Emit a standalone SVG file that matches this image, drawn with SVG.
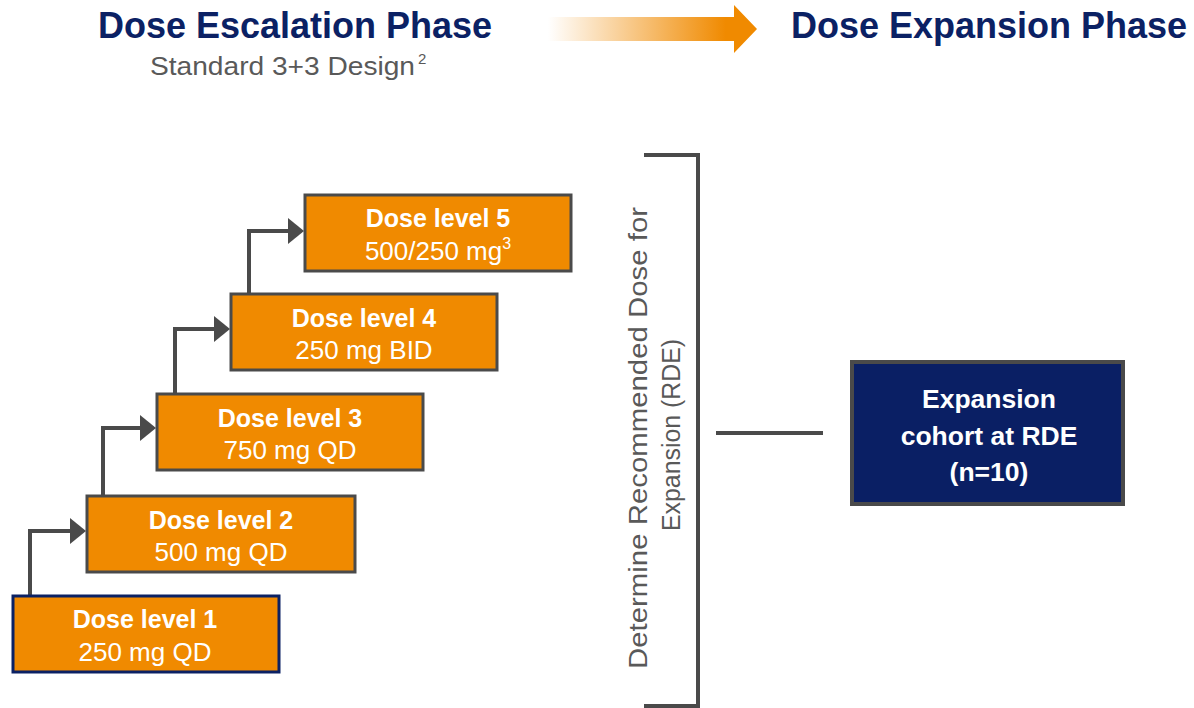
<svg xmlns="http://www.w3.org/2000/svg" width="1194" height="708" viewBox="0 0 1194 708">
<style>
.title{font-family:"Liberation Sans",Arial,sans-serif;font-weight:bold;font-size:36px;fill:#0b2164}
.sub{font-family:"Liberation Sans",Arial,sans-serif;font-size:26px;fill:#595959}
.sup{font-family:"Liberation Sans",Arial,sans-serif;font-size:15px;fill:#595959}
.box{fill:#f08a00;stroke:#4a4a4a;stroke-width:3}
.b1{stroke:#0b2164}
.bt{font-family:"Liberation Sans",Arial,sans-serif;font-weight:bold;font-size:25px;fill:#fff;text-anchor:middle}
.et{font-family:"Liberation Sans",Arial,sans-serif;font-weight:bold;font-size:26.5px;fill:#fff;text-anchor:middle}
.rt{font-family:"Liberation Sans",Arial,sans-serif;font-size:26px;fill:#fff;text-anchor:middle}
.conn{fill:none;stroke:#4a4a4a;stroke-width:4}
.rot{font-family:"Liberation Sans",Arial,sans-serif;font-size:25px;fill:#595959;text-anchor:middle}
</style>
<defs>
<linearGradient id="grad" x1="548" y1="0" x2="757" y2="0" gradientUnits="userSpaceOnUse">
<stop offset="0" stop-color="#f08a00" stop-opacity="0"/>
<stop offset="0.85" stop-color="#f08a00"/>
</linearGradient>
<marker id="ah" markerUnits="userSpaceOnUse" markerWidth="16" markerHeight="26" refX="0" refY="13" orient="auto" viewBox="0 0 16 26">
<path d="M0,0 L16,13 L0,26 z" fill="#4a4a4a"/>
</marker>
</defs>
<g id="header">
<text class="title" x="295" y="38" text-anchor="middle">Dose Escalation Phase</text>
<text class="sub" x="150" y="75" textLength="265" lengthAdjust="spacingAndGlyphs">Standard 3+3 Design</text>
<text class="sup" x="418" y="64">2</text>
<polygon id="phase-arrow" points="548,17 734,17 734,5 757,29 734,53 734,41 548,41" fill="url(#grad)"/>
<text class="title" x="989" y="38" text-anchor="middle">Dose Expansion Phase</text>
</g>
<g id="connectors">
<path class="conn" d="M30,598 V531 H70" marker-end="url(#ah)"/>
<path class="conn" d="M103,497 V428 H140" marker-end="url(#ah)"/>
<path class="conn" d="M175,395 V329 H214" marker-end="url(#ah)"/>
<path class="conn" d="M249,295 V231 H288" marker-end="url(#ah)"/>
<path class="conn" d="M644,155 H698 V706 H644"/>
<path class="conn" d="M716,433 H823"/>
</g>
<g id="dose1">
<rect class="box b1" x="13" y="596" width="266" height="76"/>
<text class="bt" x="145" y="628">Dose level 1</text>
<text class="rt" x="145" y="661">250 mg QD</text>
</g>
<g id="dose2">
<rect class="box" x="87" y="496" width="268" height="76"/>
<text class="bt" x="221" y="529">Dose level 2</text>
<text class="rt" x="221" y="561">500 mg QD</text>
</g>
<g id="dose3">
<rect class="box" x="157" y="394" width="266" height="76"/>
<text class="bt" x="290" y="427">Dose level 3</text>
<text class="rt" x="290" y="459">750 mg QD</text>
</g>
<g id="dose4">
<rect class="box" x="231" y="294" width="266" height="76"/>
<text class="bt" x="364" y="327">Dose level 4</text>
<text class="rt" x="364" y="359">250 mg BID</text>
</g>
<g id="dose5">
<rect class="box" x="305" y="195" width="266" height="76"/>
<text class="bt" x="438" y="227">Dose level 5</text>
<text class="rt" x="438" y="260">500/250 mg<tspan style="font-size:16px" dy="-11">3</tspan></text>
</g>
<g id="rde-label">
<text class="rot" transform="translate(647,438) rotate(-90)" textLength="462" lengthAdjust="spacingAndGlyphs">Determine Recommended Dose for</text>
<text class="rot" transform="translate(680,435) rotate(-90)" textLength="192" lengthAdjust="spacingAndGlyphs">Expansion (RDE)</text>
</g>
<g id="expansion">
<rect x="852" y="362" width="271" height="142" fill="#0a1f64" stroke="#4a4a4a" stroke-width="4"/>
<text class="et" x="989" y="408">Expansion</text>
<text class="et" x="989" y="445">cohort at RDE</text>
<text class="et" x="989" y="481">(n=10)</text>
</g>
</svg>
